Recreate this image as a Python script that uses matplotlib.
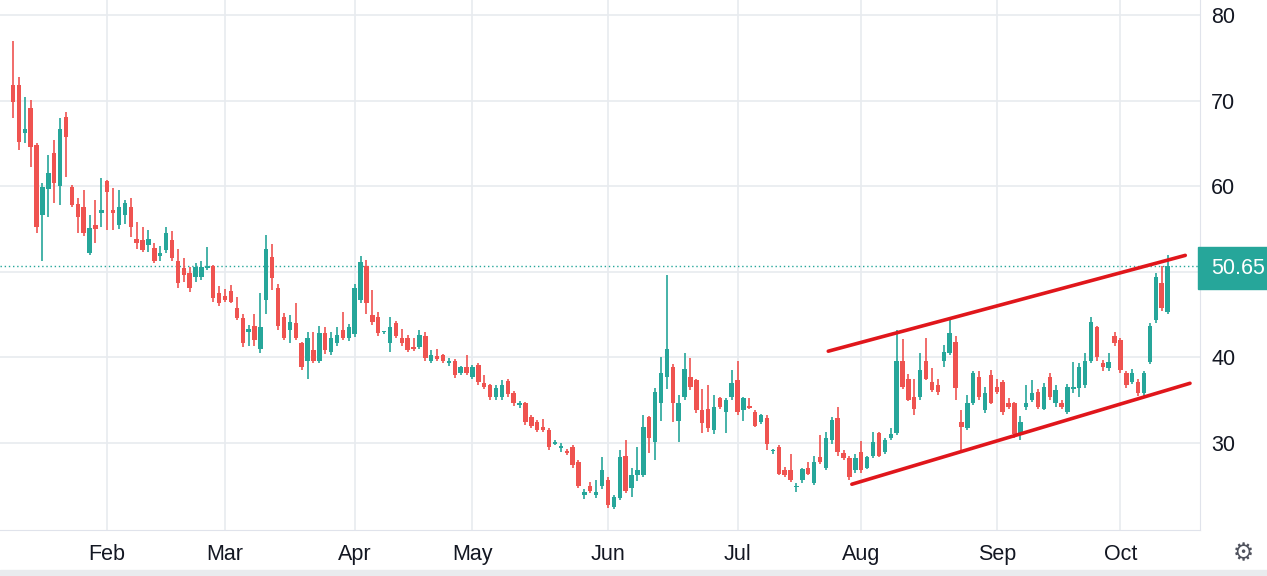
import numpy as np
import matplotlib
matplotlib.use("Agg")
import matplotlib.pyplot as plt

plt.rcParams["font.family"] = ["Liberation Sans", "DejaVu Sans"]

# OHLC (daily candles, mid Jan -> mid Oct)
opens = [71.8, 71.8, 66.2, 69.1, 64.8, 56.6, 59.6, 63.9, 60.0, 68.1,
         59.9, 57.9, 57.5, 52.2, 55.5, 56.8, 60.6, 57.2, 55.4, 56.6,
         57.5, 53.8, 53.7, 53.1, 52.8, 51.8, 52.5, 53.7, 51.3, 50.4,
         49.8, 49.4, 49.4, 50.4, 50.6, 47.5, 47.2, 47.7, 45.7, 44.6,
         42.9, 43.6, 41.0, 46.7, 51.7, 48.1, 44.7, 43.2, 44.0, 41.6,
         39.6, 40.8, 39.6, 42.8, 40.6, 41.6, 43.2, 42.2, 42.7, 46.7,
         50.6, 44.9, 44.7, 42.9, 41.6, 44.0, 42.3, 42.2, 41.2, 41.2,
         42.5, 39.6, 40.1, 40.2, 39.3, 39.6, 38.2, 38.8, 37.7, 39.1,
         37.0, 36.7, 35.3, 35.3, 37.2, 35.8, 34.4, 34.6, 33.0, 32.4,
         31.8, 31.5, 29.9, 29.4, 29.0, 29.5, 27.7, 23.9, 25.0, 23.9,
         25.0, 25.6, 22.5, 23.5, 28.5, 24.7, 26.2, 26.2, 33.0, 30.1,
         34.6, 37.7, 38.8, 32.5, 35.3, 37.7, 37.3, 33.8, 33.9, 31.5,
         35.2, 33.6, 35.3, 37.3, 33.8, 34.3, 33.6, 32.4, 32.9, 29.0,
         29.5, 26.8, 26.8, 24.8, 25.6, 27.0, 25.3, 28.3, 27.0, 30.3,
         32.9, 28.8, 28.2, 26.8, 28.9, 27.1, 28.5, 31.1, 28.9, 30.5,
         31.1, 39.6, 37.5, 35.3, 35.3, 39.6, 37.1, 36.7, 39.6, 40.5,
         41.8, 32.4, 31.7, 34.6, 37.7, 33.8, 37.9, 36.5, 37.1, 34.6,
         34.6, 31.1, 34.2, 35.0, 35.9, 34.0, 37.7, 34.6, 34.7, 33.6,
         36.3, 36.4, 36.7, 39.6, 43.5, 39.3, 38.7, 42.5, 42.0, 38.1,
         37.1, 37.1, 35.8, 39.4, 44.3, 48.7, 45.3]
highs = [77.0, 72.7, 70.4, 70.1, 65.0, 60.4, 63.6, 65.4, 68.0, 68.7,
         60.1, 58.6, 59.5, 56.6, 58.4, 61.0, 60.7, 59.8, 59.5, 58.4,
         58.6, 55.8, 55.2, 54.9, 53.3, 53.0, 55.2, 54.7, 52.6, 51.6,
         50.5, 51.0, 51.2, 52.9, 50.8, 48.3, 48.0, 48.4, 47.0, 45.0,
         43.8, 45.1, 47.5, 54.3, 53.2, 48.5, 45.2, 44.9, 46.3, 41.8,
         42.9, 42.9, 43.7, 43.5, 42.9, 43.5, 45.3, 43.9, 48.5, 51.8,
         51.4, 47.8, 45.3, 43.1, 44.7, 44.2, 43.3, 42.6, 42.2, 43.2,
         43.0, 40.8, 41.0, 40.4, 39.9, 39.8, 39.0, 40.2, 39.1, 39.3,
         37.9, 36.9, 36.8, 37.3, 37.4, 36.0, 34.9, 34.8, 33.3, 32.7,
         32.8, 31.7, 30.3, 30.0, 29.3, 29.7, 28.0, 24.6, 25.4, 25.7,
         28.3, 26.0, 23.9, 29.1, 30.3, 27.0, 29.5, 33.2, 33.1, 36.4,
         40.0, 49.6, 39.2, 35.6, 40.5, 39.9, 37.5, 36.3, 36.7, 35.6,
         35.4, 35.2, 38.5, 39.6, 35.4, 35.2, 33.8, 33.4, 33.2, 29.3,
         29.7, 27.2, 28.7, 25.3, 27.0, 27.8, 28.4, 30.9, 31.2, 33.0,
         34.2, 29.2, 28.4, 28.7, 30.2, 28.5, 31.2, 31.3, 30.5, 31.7,
         43.2, 42.1, 38.0, 37.5, 40.5, 42.3, 38.7, 37.5, 41.4, 44.3,
         42.5, 33.8, 35.6, 38.4, 38.4, 36.5, 38.5, 37.4, 37.3, 35.2,
         34.8, 33.1, 36.7, 37.3, 36.3, 37.0, 38.1, 36.8, 35.0, 36.9,
         39.4, 39.3, 40.5, 44.7, 43.7, 39.7, 40.5, 43.0, 42.2, 38.4,
         38.6, 37.4, 38.4, 44.0, 49.8, 50.6, 51.9]
lows = [68.0, 64.2, 65.0, 62.2, 54.5, 51.3, 56.4, 58.0, 57.8, 61.1,
        57.5, 54.5, 54.2, 52.0, 53.3, 55.2, 54.9, 54.9, 55.0, 55.6,
        54.0, 52.7, 52.3, 52.3, 51.0, 51.3, 52.2, 51.3, 48.1, 48.8,
        47.6, 48.8, 49.0, 50.2, 46.5, 46.0, 46.5, 46.3, 44.3, 41.2,
        41.3, 41.3, 40.5, 45.1, 47.8, 43.2, 42.0, 41.6, 42.0, 38.5,
        37.5, 39.3, 39.3, 40.4, 40.2, 41.3, 42.0, 41.9, 42.4, 46.3,
        45.1, 43.8, 42.5, 42.7, 40.6, 42.3, 41.3, 40.6, 40.7, 41.0,
        39.6, 39.3, 39.6, 39.3, 39.0, 37.6, 37.9, 37.9, 37.5, 36.8,
        36.3, 35.0, 35.0, 35.0, 35.4, 34.3, 34.1, 32.1, 31.7, 31.2,
        31.3, 29.2, 29.7, 28.9, 28.6, 27.1, 24.7, 23.4, 24.1, 23.5,
        24.6, 22.4, 22.3, 23.3, 24.1, 23.6, 25.5, 26.0, 28.8, 28.0,
        32.5, 36.3, 32.4, 30.1, 35.0, 36.2, 33.5, 31.1, 31.3, 31.0,
        33.9, 31.1, 35.0, 33.3, 32.5, 34.0, 31.8, 32.2, 29.1, 28.7,
        26.2, 26.0, 25.4, 24.3, 25.3, 26.2, 25.1, 27.5, 26.8, 29.8,
        28.5, 28.0, 25.6, 26.5, 26.5, 26.9, 28.2, 28.3, 28.7, 30.3,
        30.9, 36.3, 34.9, 33.3, 35.0, 37.3, 35.9, 35.6, 38.8, 40.2,
        35.0, 29.1, 31.5, 34.4, 35.0, 33.5, 34.5, 35.7, 33.3, 34.0,
        30.6, 30.3, 33.8, 34.8, 33.9, 33.8, 35.0, 34.2, 34.0, 33.4,
        35.8, 35.3, 36.4, 39.3, 39.6, 38.4, 38.4, 41.3, 38.2, 36.4,
        36.9, 35.5, 35.5, 39.2, 44.0, 45.4, 45.0]
closes = [69.8, 65.1, 66.7, 64.6, 55.2, 59.9, 61.5, 60.4, 66.7, 65.7,
          57.8, 56.4, 54.5, 55.1, 55.0, 57.2, 59.3, 56.8, 57.5, 58.0,
          55.2, 53.4, 52.5, 53.8, 51.3, 52.2, 54.5, 51.6, 48.7, 49.6,
          48.1, 50.5, 50.5, 50.6, 46.9, 46.3, 46.7, 46.5, 44.6, 41.6,
          43.3, 42.0, 43.5, 52.7, 49.2, 43.7, 42.3, 44.1, 42.3, 38.8,
          42.2, 39.6, 42.8, 40.8, 42.2, 42.6, 42.3, 43.5, 48.1, 51.1,
          46.3, 44.1, 42.8, 42.9, 43.5, 42.5, 41.6, 40.8, 40.9, 42.6,
          39.9, 40.2, 39.8, 39.6, 39.6, 37.9, 38.8, 38.1, 38.8, 37.1,
          36.5, 35.3, 36.4, 36.7, 35.7, 34.6, 34.7, 32.4, 32.0, 31.5,
          31.5, 29.5, 30.1, 29.6, 28.8, 27.4, 25.0, 24.2, 24.4, 24.2,
          26.8, 22.7, 23.6, 28.3, 24.4, 26.2, 26.8, 31.8, 30.6, 35.9,
          38.1, 41.0, 34.6, 34.6, 38.6, 36.5, 33.8, 32.3, 31.7, 34.2,
          34.2, 35.0, 37.0, 33.6, 35.2, 34.1, 32.0, 33.2, 29.9, 29.1,
          26.4, 26.2, 25.6, 24.9, 26.9, 26.4, 27.7, 27.7, 30.5, 32.6,
          28.9, 28.2, 26.0, 28.2, 26.8, 28.3, 30.1, 28.5, 30.3, 31.0,
          39.6, 36.5, 35.0, 34.0, 38.5, 37.5, 36.2, 35.9, 40.6, 42.8,
          36.4, 31.8, 34.6, 38.2, 35.3, 35.8, 34.7, 35.9, 33.6, 34.2,
          31.0, 32.4, 34.6, 35.8, 34.2, 36.5, 35.3, 36.2, 34.2, 36.5,
          36.5, 38.9, 39.5, 44.1, 40.0, 38.9, 39.4, 41.6, 38.5, 36.7,
          38.1, 35.8, 38.1, 43.7, 49.4, 45.7, 50.65]

month_labels = ["Feb", "Mar", "Apr", "May", "Jun", "Jul", "Aug", "Sep", "Oct"]
month_first_bar = [16, 36, 58, 78, 101, 123, 144, 167, 188]

# hand drawn channel (bar index, price)
upper_line = [(138.4, 40.7), (199.0, 51.9)]
lower_line = [(142.4, 25.15), (199.8, 36.95)]
last_price = closes[-1]

UP = "#26a69a"
DOWN = "#ef5350"
GRID = "#e8ebef"
W, H = 1267, 576

o = np.array(opens)
h = np.array(highs)
l = np.array(lows)
c = np.array(closes)
idx = np.arange(len(o))
cols = np.where(c >= o, UP, DOWN)

fig = plt.figure(figsize=(W / 100, H / 100), dpi=100)
ax = fig.add_axes([0.0, 46 / H, 1200 / W, 530 / H])

for y in [30, 40, 50, 60, 70, 80]:
    ax.axhline(y, color=GRID, lw=1.2, zorder=0)
for x in month_first_bar:
    ax.axvline(x, color=GRID, lw=1.2, zorder=0)

ax.vlines(idx, l, h, color=cols, lw=1.2, zorder=2)
body = np.maximum(np.abs(c - o), 0.15)
ax.bar(idx, body, bottom=np.minimum(o, c), width=0.75, color=cols, zorder=3)

ax.axhline(last_price, color=UP, lw=1, ls=(0, (1, 2)), zorder=1)

for pts in (upper_line, lower_line):
    xs, ys = zip(*pts)
    ax.plot(xs, ys, color="#e0161b", lw=2.6, solid_capstyle="round", zorder=4)

ax.set_xlim(-2.2, 201.5)
ax.set_ylim(19.8, 81.75)

ax.set_xticks(month_first_bar)
ax.set_xticklabels(month_labels)
ax.yaxis.tick_right()
ax.set_yticks([30, 40, 60, 70, 80])
ax.tick_params(axis="both", length=0, labelsize=15.5, colors="#131722")
ax.tick_params(axis="x", pad=10)
ax.tick_params(axis="y", pad=8)

for s in ["top", "left"]:
    ax.spines[s].set_visible(False)
ax.spines["right"].set_color("#e0e3eb")
ax.spines["bottom"].set_color("#e0e3eb")

# last price tag on the scale, placed in pixels at the price level
y_px = ax.transData.transform((0, last_price))[1]
tag_h = 42
fig.patches.append(plt.Rectangle((1198 / W, (y_px - tag_h / 2 - 2) / H), 69 / W, tag_h / H,
                                 transform=fig.transFigure, color=UP, zorder=5))
fig.text(1238 / W, (y_px - 2) / H, f"{last_price:.2f}", ha="center", va="center",
         fontsize=15.5, color="white", zorder=6)

fig.text(1243 / W, 23 / H, "\u2699", fontsize=17, color="#50535e", ha="center", va="center",
         family="DejaVu Sans")
fig.patches.append(plt.Rectangle((0, 0), 1, 6 / H, transform=fig.transFigure,
                                 color="#e9ebee", zorder=0))

fig.savefig("out.png", dpi=100)
